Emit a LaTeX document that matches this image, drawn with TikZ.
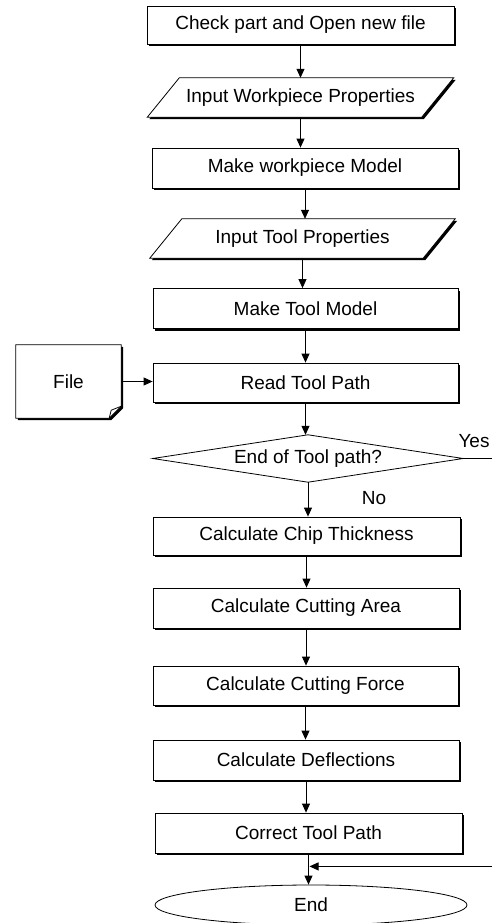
\documentclass[tikz,border=0pt]{standalone}
\usepackage{fontspec}
\setmainfont{Liberation Sans}
\usetikzlibrary{arrows.meta,shadows,shapes.geometric,calc,backgrounds}
\begin{document}
\begin{tikzpicture}[x=1pt,y=-1pt,
  font=\fontsize{19}{22}\selectfont,
  sh/.style={drop shadow={shadow xshift=2pt,shadow yshift=-2pt,fill=black,opacity=1}},
  box/.style={draw,line width=0.8pt,fill=white,sh,inner sep=0pt,minimum height=39pt},
  plain/.style={inner sep=0pt},
  outline/.style={draw,line width=0.8pt,fill=white},
  arr/.style={-{Triangle[length=9pt,width=8pt]},line width=0.8pt}
]
\useasboundingbox (0,0) rectangle (492,923);

% nodes
\node[box,minimum width=307pt,minimum height=38pt] (b1) at (300.5,25) {Check part and Open new file};
\node[plain,minimum width=274pt,minimum height=39pt] (p1) at (300.5,97.5) {Input Workpiece Properties};
\node[box,minimum width=306pt,minimum height=40pt] (b2) at (305,168) {Make workpiece Model};
\node[plain,minimum width=273pt,minimum height=39pt] (p2) at (302.5,238.5) {Input Tool Properties};
\node[box,minimum width=305pt,minimum height=40pt] (b3) at (305.5,308.5) {Make Tool Model};
\node[box,minimum width=305pt,minimum height=39pt] (b4) at (305.5,382.5) {Read Tool Path};
\node[plain,minimum width=105pt,minimum height=73pt] (file) at (68.5,381.5) {File};
\node[plain,minimum width=310pt,minimum height=47pt] (d) at (308,458.5) {End of Tool path?};
\node[box,minimum width=307pt,minimum height=38pt] (c1) at (306.5,536) {Calculate Chip Thickness};
\node[box,minimum width=306pt,minimum height=40pt] (c2) at (306,608) {Calculate Cutting Area};
\node[box,minimum width=305pt,minimum height=39pt] (c3) at (305.5,685.5) {Calculate Cutting Force};
\node[box,minimum width=306pt,minimum height=40pt] (c4) at (306,760) {Calculate Deflections};
\node[box,minimum width=307pt,minimum height=40pt] (c5) at (308.5,833) {Correct Tool Path};
\node[ellipse,draw,line width=0.8pt,fill=white,inner sep=0pt,minimum width=312pt,minimum height=40pt] (end) at (311,905) {End};
\node[plain] (yes) at (474,441) {Yes};
\node[plain] (no) at (374,498) {No};

% shapes drawn behind their texts
\begin{scope}[on background layer]
\draw[outline,sh] ($(p1.north west)+(16,0)$) -- ($(p1.north east)+(16,0)$) -- ($(p1.south east)+(-16,0)$) -- ($(p1.south west)+(-16,0)$) -- cycle;
\draw[outline,sh] ($(p2.north west)+(16,0)$) -- ($(p2.north east)+(16,0)$) -- ($(p2.south east)+(-16,0)$) -- ($(p2.south west)+(-16,0)$) -- cycle;
\draw[outline,sh] (file.north west) -- (file.north east) -- ($(file.south east)+(0,-12)$) -- ($(file.south east)+(-12,0)$) -- (file.south west) -- cycle;
\draw[line width=0.8pt] ($(file.south east)+(-12,0)$) -- ($(file.south east)+(-10,-8)$) -- ($(file.south east)+(0,-12)$);
\draw[outline] (d.north) -- (d.east) -- (d.south) -- (d.west) -- cycle;
\end{scope}

% connectors
\draw[arr] (b1.south) -- (b1.south |- p1.north);
\draw[arr] (p1.south) -- (p1.south |- b2.north);
\draw[arr] (b2.south) -- (b2.south |- p2.north);
\draw[arr] (p2.south) -- (p2.south |- b3.north);
\draw[arr] (b3.south) -- (b3.south |- b4.north);
\draw[arr] (file.east) -- (file.east -| b4.west);
\draw[arr] (b4.south) -- (b4.south |- d.north);
\draw[arr] (d.south) -- (d.south |- c1.north);
\draw[arr] (c1.south) -- (c1.south |- c2.north);
\draw[arr] (c2.south) -- (c2.south |- c3.north);
\draw[arr] (c3.south) -- (c3.south |- c4.north);
\draw[arr] (c4.south) -- (c4.south |- c5.north);
\draw[arr] (c5.south) -- (c5.south |- end.north);
\coordinate (m) at ($(c5.south)+(1,13)$);
\coordinate (yr) at (494,0);
\draw[arr] (d.east) -- (d.east -| yr) |- (m);
\end{tikzpicture}
\end{document}
